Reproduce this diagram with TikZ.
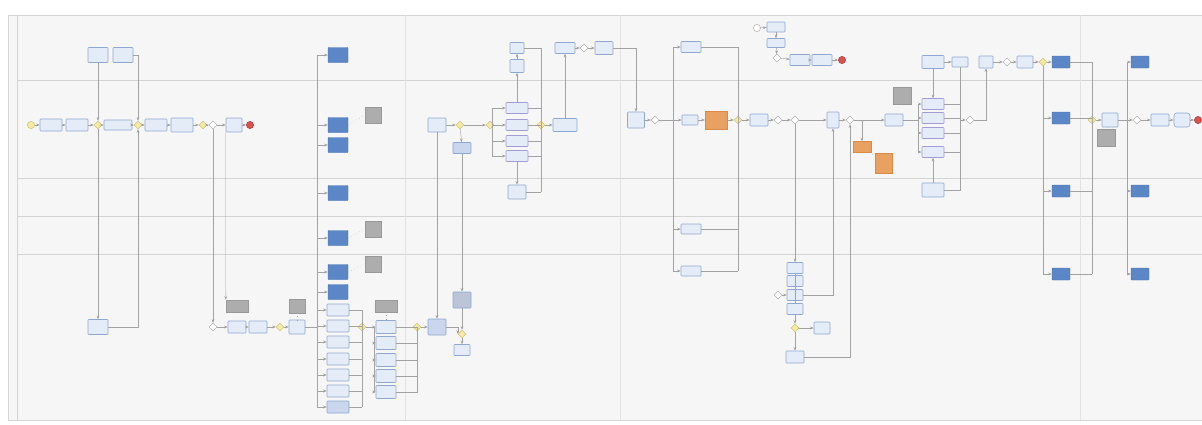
\documentclass[tikz,border=0pt]{standalone}
\usepackage{tikz}
\usetikzlibrary{arrows.meta, positioning, shapes.geometric, calc}
\usepackage{xcolor}

\definecolor{bgc}{HTML}{F6F6F6}
\definecolor{laneln}{HTML}{D4D4D4}
\definecolor{colln}{HTML}{E2E2E2}
\definecolor{lineg}{HTML}{A2A2A2}
\definecolor{taskfill}{HTML}{E4ECF7}
\definecolor{taskfill2}{HTML}{C9D6EE}
\definecolor{taskdraw}{HTML}{8EA8D2}
\definecolor{purpdraw}{HTML}{A39CD4}
\definecolor{callfill}{HTML}{5B87C6}
\definecolor{calldraw}{HTML}{4570AE}
\definecolor{orngfill}{HTML}{E9A162}
\definecolor{orngdraw}{HTML}{D98A48}
\definecolor{notefill}{HTML}{ADADAD}
\definecolor{notedraw}{HTML}{989898}
\definecolor{gwfill}{HTML}{F4E9A6}
\definecolor{gwdraw}{HTML}{CDBB5C}
\definecolor{endfill}{HTML}{D9534F}

\begin{document}
\begin{tikzpicture}[x=0.25mm, y=-0.25mm,
  sz/.style 2 args={minimum width=#1*0.25mm, minimum height=#2*0.25mm},
  task/.style={draw=taskdraw, fill=taskfill, rounded corners=0.5pt, inner sep=0pt, line width=0.4pt},
  call/.style={draw=calldraw, fill=callfill, rounded corners=0.5pt, inner sep=0pt, line width=0.3pt},
  orng/.style={draw=orngdraw, fill=orngfill, inner sep=0pt, line width=0.3pt},
  note/.style={draw=notedraw, fill=notefill, inner sep=0pt, line width=0.3pt},
  gw/.style={diamond, draw=gwdraw, fill=gwfill, inner sep=0pt, minimum size=2mm, line width=0.3pt},
  gwp/.style={diamond, draw=lineg, fill=white, inner sep=0pt, minimum size=2mm, line width=0.3pt},
  startev/.style={circle, draw=gwdraw, fill=gwfill, inner sep=0pt, minimum size=1.8mm, line width=0.3pt},
  endev/.style={circle, draw=endfill!80!black, fill=endfill, inner sep=0pt, minimum size=1.8mm},
  flow/.style={draw=lineg, line width=0.3pt, -{Stealth[length=0.9mm, width=0.7mm]}},
  bus/.style={draw=lineg, line width=0.3pt},
  assoc/.style={draw=lineg, line width=0.3pt, dotted}
]
\useasboundingbox (0,0) rectangle (1202,424);
\fill[white] (0,0) rectangle (1202,424);
\fill[bgc] (8,15) rectangle (1202,420);

% lanes and phases
\draw[laneln, line width=0.4pt] (8,15) -- (1202,15) (8,420) -- (1202,420) (8,15) -- (8,420) (17,15) -- (17,420);
\foreach \y in {80,178,216,254}
  \draw[laneln, line width=0.4pt] (17,\y) -- (1202,\y);
\foreach \x in {405,620,1080}
  \draw[colln, line width=0.5pt] (\x,15) -- (\x,420);

% ---------- phase 1 ----------
\node[task, sz={20}{15}] (s1a) at (98,55) {};
\node[task, sz={20}{15}] (s1b) at (123,55) {};

\node[startev] (st1) at (31,125) {};
\node[task, sz={22}{12}] (a1) at (51,125) {};
\node[task, sz={22}{12}] (a2) at (77,125) {};
\node[gw] (g1) at (98,125) {};
\node[task, sz={28}{10}] (a3) at (118,125) {};
\node[gw] (g2) at (138,125) {};
\node[task, sz={22}{12}] (a4) at (156,125) {};
\node[task, sz={22}{14}] (a5) at (182,125) {};
\node[gw] (g3) at (203,125) {};
\node[gwp] (g4) at (213,125) {};
\node[task, sz={16}{14}] (a6) at (234,125) {};
\node[endev] (e1) at (250,125) {};

\node[task, sz={20}{15}] (b1) at (98,327) {};
\node[gwp] (g5) at (213,327) {};
\node[note, sz={22}{12}] (n1) at (237,306) {};
\node[task, sz={18}{12}] (b2) at (237,327) {};
\node[task, sz={18}{12}] (b3) at (258,327) {};
\node[gw] (g6) at (280,327) {};
\node[note, sz={16}{14}] (n2) at (297,306) {};
\node[task, sz={16}{14}] (b4) at (297,327) {};

\coordinate (busA) at (317,55);
\coordinate (busB) at (317,407);
\foreach \n/\y in {1/55,2/125,3/145,4/193,5/238,6/272,7/292}
  \node[call, sz={20}{15}] (c\n) at (338,\y) {};
\foreach \n/\y in {1/310,2/326,3/342,4/359,5/375,6/391}
  \node[task, sz={22}{12}] (d\n) at (338,\y) {};
\node[task, fill=taskfill2, sz={22}{12}] (d7) at (338,407) {};
\node[note, sz={16}{16}] (n3) at (373,115) {};
\node[note, sz={16}{16}] (n4) at (373,229) {};
\node[note, sz={16}{16}] (n5) at (373,264) {};

\coordinate (jnA) at (362,310);
\coordinate (jnB) at (362,407);
\node[gw] (g7) at (362,327) {};
\node[note, sz={22}{12}] (n6) at (386,306) {};
\foreach \n/\y in {1/327,2/343,3/360,4/376,5/392}
  \node[task, sz={20}{13}] (f\n) at (386,\y) {};
\coordinate (fbA) at (374,327);
\coordinate (fbB) at (374,392);

% ---------- phase 2 ----------
\node[task, sz={18}{14}] (h1) at (437,125) {};
\node[gw] (g8) at (460,125) {};
\node[task, fill=taskfill2, sz={18}{11}] (h2) at (462,148) {};
\node[gw] (g9) at (490,125) {};
\coordinate (ibA) at (492,108);
\coordinate (ibB) at (492,156);
\node[task, sz={14}{11}] (i0a) at (517,48) {};
\node[task, sz={14}{13}] (i0b) at (517,66) {};
\foreach \n/\y in {1/108,2/125,3/141,4/156}
  \node[task, draw=purpdraw, sz={22}{11}] (i\n) at (517,\y) {};
\node[task, sz={18}{14}] (i5) at (517,192) {};
\coordinate (irA) at (541,48);
\coordinate (irB) at (541,192);
\node[gw] (g10) at (541,125) {};
\node[task, sz={24}{13}] (j1) at (565,125) {};
\node[task, sz={20}{11}] (j2) at (565,48) {};
\node[gwp] (g11) at (584,48) {};
\node[task, sz={18}{13}] (j3) at (604,48) {};

\coordinate (hbA) at (417,327);
\coordinate (hbB) at (417,393);
\node[gw] (g13) at (417,327) {};
\node[task, fill=taskfill2, sz={18}{16}] (h3) at (437,327) {};
\node[task, fill=taskfill2!80!gray, sz={18}{16}] (n7) at (462,300) {};
\node[gw] (g12) at (462,334) {};
\node[task, sz={16}{11}] (h4) at (462,350) {};

% ---------- phase 3 ----------
\node[task, sz={17}{16}] (k1) at (636,120) {};
\node[gwp] (g14) at (655,120) {};
\coordinate (kb1) at (673,120);
\node[task, sz={16}{10}] (k2) at (690,120) {};
\node[orng, sz={22}{18}] (k3) at (716,120) {};
\node[gw] (g15) at (738,120) {};
\node[task, sz={18}{12}] (k4) at (759,120) {};
\node[gwp] (g16) at (778,120) {};
\node[gwp] (g17) at (795,120) {};
\node[task, sz={20}{11}] (m1) at (691,47) {};
\node[task, sz={20}{10}] (m2) at (691,229) {};
\node[task, sz={20}{10}] (m3) at (691,271) {};

\node[startev, fill=white, draw=lineg] (st2) at (757,28) {};
\node[task, sz={18}{10}] (p1) at (776,27) {};
\node[task, sz={18}{9}] (p2) at (776,43) {};
\node[gwp] (g18) at (777,58) {};
\node[task, sz={20}{11}] (p3) at (800,60) {};
\node[task, sz={20}{11}] (p4) at (822,60) {};
\node[endev] (e2) at (842,60) {};

\node[task, sz={12}{16}] (q1) at (833,120) {};
\node[gwp] (g19) at (850,120) {};
\coordinate (qb1) at (862,120);
\node[orng, sz={18}{11}] (q2) at (862,147) {};
\node[orng, sz={17}{20}] (q3) at (884,163) {};
\node[note, sz={18}{17}] (n8) at (902,96) {};
\node[task, sz={18}{12}] (q4) at (894,120) {};
\coordinate (rbA) at (918,104);
\coordinate (rbB) at (918,152);
\node[task, sz={22}{13}] (r0) at (933,62) {};
\foreach \n/\y in {1/104,2/118,3/133,4/152}
  \node[task, draw=purpdraw, sz={22}{11}] (r\n) at (933,\y) {};
\node[task, sz={22}{14}] (r5) at (933,190) {};
\node[task, sz={16}{10}] (r6) at (960,62) {};
\node[gwp] (g20) at (970,120) {};
\node[task, sz={14}{12}] (s1) at (986,62) {};
\node[gwp] (g21) at (1007,62) {};
\node[task, sz={16}{12}] (s2) at (1025,62) {};
\node[gw] (g22) at (1043,62) {};
\foreach \n/\y in {1/62,2/118,3/191,4/274}
  \node[call, sz={18}{12}] (u\n) at (1061,\y) {};
\coordinate (ubA) at (1092,62);
\coordinate (ubB) at (1092,274);
\node[gw] (g23) at (1092,120) {};

\foreach \n/\y in {1/268,2/281,3/295,4/309}
  \node[task, sz={16}{11}] (x\n) at (795,\y) {};
\node[gwp] (g27) at (778,295) {};
\node[gw] (g25) at (795,328) {};
\node[task, sz={16}{12}] (x6) at (822,328) {};
\node[task, sz={18}{12}] (x5) at (795,357) {};

% ---------- phase 4 ----------
\node[task, sz={16}{14}] (v1) at (1110,120) {};
\node[note, sz={18}{17}] (n9) at (1106,138) {};
\node[gwp] (g24) at (1137,120) {};
\node[task, sz={18}{12}] (v2) at (1160,120) {};
\node[task, rounded corners=2pt, sz={16}{14}] (v3) at (1182,120) {};
\node[endev] (e3) at (1198,120) {};
\foreach \n/\y in {1/62,2/191,3/274}
  \node[call, sz={18}{12}] (w\n) at (1140,\y) {};
\coordinate (wbA) at (1127,62);
\coordinate (wbB) at (1127,274);

% ---------- connectors ----------
\foreach \a/\b in {st1/a1, a1/a2, a2/g1, g1/a3, a3/g2, g2/a4, a4/a5, a5/g3, g3/g4, g4/a6, a6/e1,
                   g5/b2, b2/b3, b3/g6, g6/b4, g13/h3, h1/g8, g8/g9, g10/j1, j2/g11, g11/j3,
                   k1/g14, k2/k3, k3/g15, g15/k4, k4/g16, g16/g17, g17/q1, q1/g19, g19/q4,
                   p1/p2, p2/g18, g18/p3, p3/p4, p4/e2, st2/p1, r0/r6, s1/g21, g21/s2, s2/g22, g22/u1,
                   g23/v1, v1/g24, g24/v2, v2/v3, v3/e3, g27/x3, x4/g25, g25/x5, g25/x6}
  \draw[flow] (\a) -- (\b);

\draw[flow] (s1a) -- (g1);
\draw[flow] (g1) -- (b1);
\draw[flow] (s1b.east) -| (g2.north);
\draw[flow] (b1.east) -| (g2.south);
\draw[flow] (g4) -- (g5);
\draw[flow] (a6.south west) -- (n1.north west);

\draw[bus] (busA) -- (busB);
\draw[bus] (b4.east) -- (busA |- b4.east);
\foreach \n in {1,...,7} {
  \draw[flow] (busA |- c\n.west) -- (c\n.west);
  \draw[flow] (busA |- d\n.west) -- (d\n.west);
  \draw[bus] (d\n.east) -- (jnA |- d\n.east);
}
\draw[bus] (jnA) -- (jnB);
\draw[assoc] (c2.east) -- (n3.west);
\draw[assoc] (c5.east) -- (n4.west);
\draw[assoc] (c6.east) -- (n5.west);
\draw[bus] (g7) -- (fbA);
\draw[bus] (fbA) -- (fbB);
\foreach \n in {1,...,5} {
  \draw[flow] (fbA |- f\n.west) -- (f\n.west);
  \draw[bus] (f\n.east) -- (hbA |- f\n.east);
}
\draw[bus] (hbA) -- (hbB);
\draw[assoc] (n6) -- (f1);
\draw[assoc] (n2) -- (b4);

\draw[flow] (h1) -- (h3);
\draw[flow] (g8) -- (h2);
\draw[flow] (h2) -- (n7);
\draw[flow] (n7) -- (g12);
\draw[flow] (h3.east) -| (g12.west);
\draw[flow] (g12) -- (h4);
\draw[bus] (ibA) -- (ibB);
\foreach \n in {1,...,4} {
  \draw[flow] (ibA |- i\n.west) -- (i\n.west);
  \draw[bus] (i\n.east) -- (irA |- i\n.east);
}
\draw[bus] (irA) -- (irB);
\draw[bus] (i0a.east) -- (irA);
\draw[bus] (i5.east) -- (irB);
\draw[flow] (i0b) -- (i0a);
\draw[flow] (i1) -- (i0b);
\draw[flow] (i4) -- (i5);
\draw[flow] (j1) -- (j2);
\draw[flow] (j3.east) -| (k1.north);

\draw[bus] (kb1 |- m1.west) -- (kb1 |- m3.west);
\draw[flow] (g14) -- (k2);
\foreach \n in {1,2,3} {
  \draw[flow] (kb1 |- m\n.west) -- (m\n.west);
  \draw[bus] (m\n.east) -- (g15 |- m\n.east);
}
\draw[bus] (g15 |- m1.east) -- (g15 |- m3.east);

\draw[flow] (g17) -- (x1);
\draw[bus] (x1) -- (x4);
\draw[flow] (x3.east) -| (q1.south);
\draw[flow] (x5.east) -| (g19.south);
\draw[flow] (qb1) -- (q2);
\draw[assoc] (q2) -- (q3);
\draw[assoc] (q4) -- (n8);

\draw[bus] (rbA) -- (rbB);
\draw[bus] (q4) -- (rbA |- q4.east);
\foreach \n in {1,...,4} {
  \draw[flow] (rbA |- r\n.west) -- (r\n.west);
  \draw[bus] (r\n.east) -- (r6.south |- r\n.east);
}
\draw[flow] (r0) -- (r1);
\draw[flow] (r5) -- (r4);
\draw[bus] (r6.south) -- (r6.south |- r5.east) -- (r5.east);
\draw[flow] (r6.south |- g20.west) -- (g20);
\draw[flow] (g20.east) -| (s1.south);

\draw[bus] (g22) -- (g22 |- u4.west);
\draw[bus] (ubA) -- (ubB);
\foreach \n in {2,3,4}
  \draw[flow] (g22 |- u\n.west) -- (u\n.west);
\foreach \n in {1,...,4}
  \draw[bus] (u\n.east) -- (ubA |- u\n.east);
\draw[assoc] (v1) -- (n9);

\draw[bus] (wbA) -- (wbB);
\foreach \n in {1,2,3}
  \draw[flow] (wbA |- w\n.west) -- (w\n.west);
\end{tikzpicture}
\end{document}
